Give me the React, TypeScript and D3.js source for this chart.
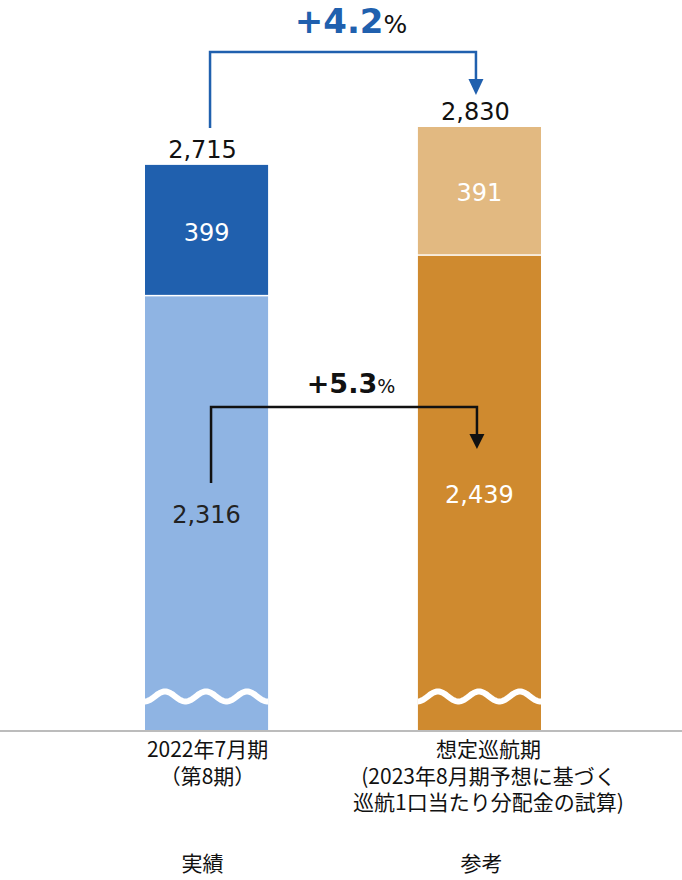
import React from "react";
import * as d3 from "d3";

const categories = ["2022年7月期", "想定巡航期"];
const categoryLines = [
  ["2022年7月期", "（第8期）"],
  ["想定巡航期", "(2023年8月期予想に基づく", "巡航1口当たり分配金の試算)"],
];
const categoryNotes = ["実績", "参考"];
const baseValues = [2316, 2439];
const topValues = [399, 391];
const changeLabels = ["+4.2", "+5.3"];

const W = 682;
const H = 880;
const BASE_Y = 730;
const NUM_FONT = "'DejaVu Sans', Verdana, sans-serif";
const JP_FONT = "'Noto Sans CJK JP', sans-serif";

const baseColors = ["#8FB4E3", "#CF8A2F"];
const topColors = ["#2060AE", "#E2B981"];
const fmt = d3.format(",");

export default function App() {
  const x = d3.scaleBand<string>().domain(categories).range([145, 541]).paddingInner(0.549).paddingOuter(0);
  const y = d3.scaleLinear().domain([1000, 2830]).range([BASE_Y, 127]);
  const bw = x.bandwidth();

  const wavePath = (x0: number) => {
    const pts: [number, number][] = [];
    for (let i = -2; i <= bw + 2; i += 1) {
      const xx = x0 + i;
      const yy = 696.5 - 5 * Math.cos((2 * Math.PI * (i - 20)) / 41);
      pts.push([xx, yy]);
    }
    return d3.line()(pts) as string;
  };

  const cx = categories.map((c) => (x(c) as number) + bw / 2);
  const totals = categories.map((_, i) => baseValues[i] + topValues[i]);

  return (
    <svg width={W} height={H} style={{ position: "absolute", left: 0, top: 0, background: "#fff" }}>
      <defs>
        {categories.map((c, i) => (
          <clipPath id={`clip${i}`} key={c}>
            <rect x={x(c)} y={0} width={bw} height={H} />
          </clipPath>
        ))}
      </defs>
      {categories.map((c, i) => {
        const bx = x(c) as number;
        const yBase = y(baseValues[i]);
        const yTop = y(totals[i]);
        return (
          <g key={c}>
            <rect x={bx} y={yBase} width={bw} height={BASE_Y - yBase} fill={baseColors[i]} />
            <rect x={bx} y={yTop} width={bw} height={yBase - yTop - 1.5} fill={topColors[i]} />
            <g clipPath={`url(#clip${i})`}>
              <path d={wavePath(bx)} fill="none" stroke="#fff" strokeWidth={6} />
            </g>
            <text x={cx[i] - 4} y={yTop - 7} textAnchor="middle" fontFamily={NUM_FONT} fontSize={24} fill="#111">
              {fmt(totals[i])}
            </text>
            <text x={cx[i]} y={(yTop + yBase) / 2 + 10} textAnchor="middle" fontFamily={NUM_FONT} fontSize={24} fill="#fff">
              {fmt(topValues[i])}
            </text>
            <text
              x={cx[i]}
              y={(yBase + BASE_Y) / 2 + 10}
              textAnchor="middle"
              fontFamily={NUM_FONT}
              fontSize={24}
              fill={i === 0 ? "#222" : "#fff"}
            >
              {fmt(baseValues[i])}
            </text>
            {categoryLines[i].map((ln, j) => (
              <text
                key={j}
                x={cx[i] + (i === 1 ? 9 : 1)}
                y={757 + j * 26.5}
                textAnchor="middle"
                fontFamily={JP_FONT}
                fontSize={21}
                fill="#111"
              >
                {ln}
              </text>
            ))}
            <text x={cx[i] + (i === 1 ? 2 : -4)} y={871} textAnchor="middle" fontFamily={JP_FONT} fontSize={21} fill="#111">
              {categoryNotes[i]}
            </text>
          </g>
        );
      })}
      <line x1={0} x2={W} y1={731} y2={731} stroke="#A6A6A6" strokeWidth={1.6} />

      {/* blue bracket */}
      <path
        d={`M${cx[0] + 3.5},128 V52 H${cx[1] - 3.5} V82`}
        fill="none"
        stroke="#2060AE"
        strokeWidth={2.5}
      />
      <path d={`M${cx[1] - 11},79 L${cx[1] + 4},79 L${cx[1] - 3.5},95 Z`} fill="#2060AE" />
      <text x={351} y={33} textAnchor="middle" fontFamily={NUM_FONT}>
        <tspan fontSize={34} fontWeight="bold" fill="#2060AE">
          {changeLabels[0]}
        </tspan>
        <tspan fontSize={25} fill="#111">%</tspan>
      </text>

      {/* black bracket */}
      <path
        d={`M${cx[0] + 4.5},483 V407 H${cx[1] - 2.5} V436`}
        fill="none"
        stroke="#111"
        strokeWidth={2.5}
      />
      <path d={`M${cx[1] - 10},434 L${cx[1] + 5},434 L${cx[1] - 2.5},449 Z`} fill="#111" />
      <text x={351} y={393} textAnchor="middle" fontFamily={NUM_FONT}>
        <tspan fontSize={27} fontWeight="bold" fill="#111">
          {changeLabels[1]}
        </tspan>
        <tspan fontSize={19} fill="#111">%</tspan>
      </text>
    </svg>
  );
}
